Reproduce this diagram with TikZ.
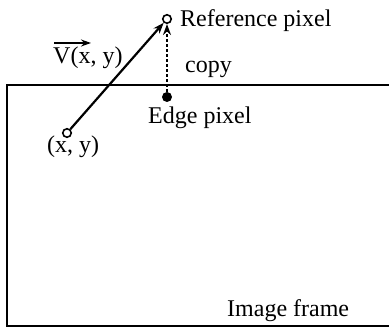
\documentclass[tikz,border=0pt]{standalone}
\usepackage{fontspec}
\setmainfont{Liberation Serif}
\usetikzlibrary{arrows.meta}
\begin{document}
\begin{tikzpicture}[x=1pt,y=-1pt,
  lbl/.style={font=\fontsize{24}{28}\selectfont, inner sep=0pt},
  frameline/.style={line width=1.8pt},
  conn/.style={line width=2.2pt, -{Stealth[length=11pt,width=8pt]}},
  hollow/.style={circle, draw, line width=1.6pt, minimum size=8.5pt, inner sep=0pt, fill=white},
  solid dot/.style={circle, fill=black, minimum size=10pt, inner sep=0pt}]
\useasboundingbox (0,0) rectangle (389,328);
\draw[frameline] (392,85) -- (7,85) -- (7,326) -- (392,326);
\node[hollow] (ref) at (167,19) {};
\node[hollow] (xy) at (67,133) {};
\node[solid dot] (edge) at (167,97) {};
\draw[conn] (xy) -- (ref);
\draw[conn, line width=2pt, dash pattern=on 3pt off 2pt] (edge) -- (ref);
\node[lbl, anchor=base west] (reflbl) at (180,27) {Reference pixel};
\node[lbl, anchor=base west] (vlbl) at (53,64) {V(x, y)};
\coordinate (va) at (54,43);
\coordinate (vb) at (91,43);
\draw[line width=1.8pt, -{Stealth[length=10pt,width=7pt]}] (va) -- (vb);
\node[lbl, anchor=base west] (copylbl) at (185,73) {copy};
\node[lbl, anchor=base west] (edgelbl) at (148,124) {Edge pixel};
\node[lbl, anchor=base west] (xylbl) at (47,153) {(x, y)};
\node[lbl, anchor=base west] (framelbl) at (227,317) {Image frame};
\end{tikzpicture}
\end{document}
